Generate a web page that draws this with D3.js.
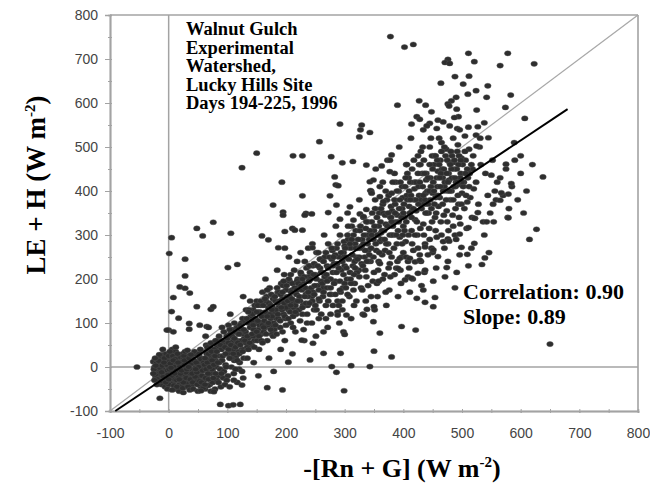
<!DOCTYPE html>
<html><head><meta charset="utf-8">
<script src="https://cdn.jsdelivr.net/npm/d3@7/dist/d3.min.js"></script>
<style>body{margin:0;background:#fff}svg{display:block}</style>
</head><body>
<script>
const xTicks=[-100,0,100,200,300,400,500,600,700,800];
const yTicks=[-100,0,100,200,300,400,500,600,700,800];
const fitSlope=0.89, fitIntercept=-19, fitRange=[-91,680];
const annotation=["Walnut Gulch","Experimental","Watershed,","Lucky Hills Site","Days 194-225, 1996"];
const stats=["Correlation: 0.90","Slope: 0.89"];

const ptsCluster=[[-20,-10],[-18,5],[-15,-20],[-12,10],[-10,-5],[-8,-30],[-5,15],[-3,-15],[0,0],[2,-25],[4,20],[6,-8],[8,-35],[10,5],[12,-18],[14,25],[16,-2],[18,-40],[20,10],[22,-22],[24,30],[26,-5],[28,-45],[30,15],[32,-12],[34,-30],[36,5],[38,-20],[40,20],[42,-8],[44,-38],[46,0],[48,-25],[50,12],[52,-15],[55,-45],[58,5],[60,-30],[-22,-25],[-16,-35],[-12,-40],[-6,-45],[-2,-8],[1,12],[3,-38],[5,32],[7,-18],[9,0],[11,-28],[13,15],[15,-12],[17,-48],[19,22],[21,-32],[23,-2],[25,18],[27,-28],[29,2],[31,-38],[33,25],[35,-15],[37,-5],[39,-42],[41,8],[43,-18],[45,30],[47,-32],[49,-5],[51,-22],[53,22],[56,-10],[-24,0],[-20,18],[-14,22],[-9,28],[-4,-22],[0,-40],[6,40],[10,-50],[18,-55],[25,-58],[62,-50],[65,-20],[68,10],[70,-40],[72,25],[75,-10],[78,-30],[80,15],[64,35],[-26,12],[-10,40],[-18,-15],[-6,5],[4,-12],[14,-30],[24,-15],[34,10],[44,-10],[54,0],[-14,-8],[-2,22],[12,35],[28,-20],[38,-32],[48,8],
[-25,-5],[-23,-18],[-21,8],[-19,-28],[-17,14],[-15,-2],[-13,-32],[-11,3],[-9,-22],[-7,20],[-5,-35],[-3,5],[-1,-18],[-24,-30],[-20,-40],[-16,28],[-12,-12],[-8,10],[-4,30],[0,25],[-2,-50],[-26,-15],[-22,3],
[1,-5],[3,8],[5,-20],[7,25],[9,-42],[11,18],[13,-8],[15,30],[17,-22],[19,2],[21,-45],[23,12],[25,-35],[27,5],[29,-12],[2,35],[8,15],[14,-45],[20,-15],[26,25],[0,-28],[6,-52],[12,45],[16,10],[22,-8],[28,35],[30,-25],[4,-2],[10,-15],[18,-28],[24,-48],[27,15],
[31,-5],[33,-45],[35,20],[37,-28],[39,8],[41,-35],[43,15],[45,-22],[47,10],[49,-40],[51,0],[53,-32],[55,18],[57,-20],[59,-48],[32,38],[36,-52],[40,-15],[44,35],[48,-12],[52,30],[56,-35],[60,10],[34,0],[38,28],[42,-50],[46,-5],[50,-55],[54,40],[58,-8],
[61,5],[63,-25],[65,30],[67,-42],[69,15],[71,-15],[73,40],[75,-35],[77,20],[79,-50],[81,0],[83,45],[85,-20],[87,25],[89,-45],[62,-40],[66,10],[70,50],[74,-5],[78,55],[82,-30],[86,10],[90,40],[64,50],[68,-28],[72,-55],[76,35],[80,-15],[84,60],[88,-5],
[91,15],[93,-25],[95,55],[97,5],[99,70],[101,-20],[103,35],[105,75],[107,0],[109,50],[111,-15],[113,80],[115,25],[117,-35],[119,55],[121,10],[123,85],[125,40],[127,-25],[129,65],[92,60],[96,-40],[100,30],[104,-45],[108,85],[112,15],[116,90],[120,-5],[124,100],[128,20],[94,-10],[102,95],[110,60],[118,35],[126,75],[130,105]];

const ptsBand=[[62,20],[64,-5],[66,45],[68,30],[70,0],[72,55],[74,15],[76,-25],[78,40],[80,60],[63,70],[67,-15],[73,35],[77,5],[79,25],
[82,35],[84,10],[86,70],[88,50],[90,-15],[92,25],[94,80],[96,45],[98,0],[100,65],[85,-35],[91,90],[97,30],[99,-30],
[102,55],[104,85],[106,20],[108,70],[110,40],[112,100],[114,-5],[116,60],[118,90],[120,30],[105,120],[111,-30],[117,15],[119,75],
[122,95],[124,60],[126,110],[128,40],[130,80],[132,130],[134,20],[136,100],[138,70],[140,115],[125,-10],[131,55],[139,150],[127,160],
[142,90],[144,130],[146,60],[148,110],[150,150],[152,85],[154,40],[156,125],[158,100],[160,170],[145,10],[153,-20],[157,140],[149,75],
[162,120],[164,90],[166,150],[168,60],[170,135],[172,180],[174,110],[176,75],[178,155],[180,125],[165,200],[171,20],[177,95],[179,-10],
[182,150],[184,110],[186,170],[188,135],[190,90],[192,190],[194,155],[196,120],[198,60],[200,175],[185,220],[191,40],[197,210],[199,140],
[202,160],[204,130],[206,195],[208,100],[210,175],[212,145],[214,220],[216,80],[218,165],[220,200],[205,250],[211,30],[217,120],[219,240],
[222,180],[224,150],[226,210],[228,120],[230,190],[232,240],[234,165],[236,100],[238,205],[240,175],[225,260],[231,60],[237,140],[239,230],
[242,200],[244,160],[246,230],[248,130],[250,210],[252,260],[254,185],[256,110],[258,225],[260,195],[245,280],[251,70],[257,150],[259,245],
[262,215],[264,180],[266,250],[268,140],[270,230],[272,280],[274,200],[276,120],[278,245],[280,215],[265,300],[271,90],[277,165],[279,265],
[282,235],[284,195],[286,270],[288,150],[290,250],[292,300],[294,220],[296,130],[298,260],[300,230],[285,320],[291,100],[297,180],[299,285],
[131,80],[133,110],[135,65],[137,130],[139,90],[141,50],[143,120],[145,85],[147,140],[149,100],[151,60],[153,125],[155,95],[157,150],[159,115],[134,45],[142,105],[150,125],[158,75],[136,125],[144,70],[152,140],[160,95],
[161,140],[163,105],[165,125],[167,160],[169,95],[171,145],[173,120],[175,165],[177,135],[179,100],[181,160],[183,130],[185,180],[187,110],[189,150],[162,80],[168,175],[174,140],[180,85],[186,145],[164,155],[176,115],[188,170],
[191,165],[193,130],[195,185],[197,145],[199,110],[201,185],[203,150],[205,200],[207,125],[209,170],[211,190],[213,135],[215,180],[217,150],[219,195],[194,170],[200,135],[206,160],[212,115],[218,175],[196,195],[208,210],[216,140],
[221,190],[223,160],[225,215],[227,175],[229,140],[231,205],[233,180],[235,225],[237,160],[239,195],[241,215],[243,180],[245,150],[247,210],[249,185],[222,130],[228,200],[234,145],[240,230],[246,170],[226,185],[238,170],[248,235],
[252,200],[254,230],[256,175],[258,245],[260,215],[262,190],[264,240],[266,205],[268,260],[270,180],[272,225],[274,250],[276,200],[278,270],[280,230],[282,190],[284,255],[286,215],[288,280],[290,225],[292,195],[294,260],[296,240],[298,210],[300,275],[255,260],[263,160],[269,210],[275,165],[281,250],[287,235],[293,170],[299,250],
[102,40],[106,50],[110,30],[114,45],[118,55],[122,50],[126,35],[130,60],[134,70],[138,55],[142,75],[146,45],[150,80],[154,70],[158,60],[162,90],[166,75],[170,100],[174,85],[178,70],[182,95],[186,120],[190,105],[194,80],[198,115],[104,20],[112,65],[120,75],[128,85],[136,40],[144,95],[152,105],[160,55],[168,115],[176,130],[184,75],[192,135],[200,95],
[204,110],[208,140],[212,90],[216,125],[220,150],[224,105],[228,135],[232,160],[236,120],[240,145],[244,100],[248,165],[252,130],[256,155],[260,120],[264,170],[268,110],[272,150],[276,180],[280,140],[284,165],[288,125],[292,175],[296,150],[300,190],[210,155],[230,85],[250,140],[270,195],[290,140]];

const ptsUpperBand=[[302,250],[304,200],[306,290],[308,160],[310,270],[312,320],[314,230],[316,140],[318,280],[320,250],[305,350],[311,110],[317,190],[319,310],[309,215],
[322,270],[324,220],[326,310],[328,180],[330,290],[332,340],[334,250],[336,150],[338,300],[340,265],[325,380],[331,120],[337,205],[339,330],[329,235],
[342,290],[344,240],[346,330],[348,195],[350,310],[352,360],[354,265],[356,160],[358,320],[360,285],[345,400],[351,130],[357,220],[359,350],[349,250],[353,450],
[362,305],[364,255],[366,350],[368,210],[370,325],[372,380],[374,280],[376,175],[378,340],[380,300],[365,420],[371,140],[377,235],[379,365],[369,265],[373,470],
[382,320],[384,270],[386,370],[388,225],[390,345],[392,400],[394,295],[396,190],[398,360],[400,320],[385,440],[391,160],[397,250],[399,385],[389,280],[393,500],[387,420],
[402,340],[404,285],[406,390],[408,240],[410,365],[412,420],[414,310],[416,200],[418,380],[420,335],[405,460],[411,170],[417,265],[419,405],[409,300],[413,520],[407,440],[415,355],
[422,355],[424,300],[426,410],[428,255],[430,380],[432,440],[434,325],[436,215],[438,395],[440,350],[425,480],[431,185],[437,280],[439,425],[429,315],[433,500],[427,460],[435,370],
[442,370],[444,315],[446,430],[448,270],[450,395],[452,460],[454,340],[456,225],[458,410],[460,365],[445,500],[451,195],[457,295],[459,445],[449,330],[453,480],[447,520],[455,385],
[462,385],[464,330],[466,450],[468,285],[470,410],[472,480],[474,355],[476,240],[478,425],[480,380],[465,510],[471,205],[477,310],[479,465],[469,345],[473,495],[467,430],[475,400],[463,470],[461,520],
[482,400],[484,345],[486,465],[488,300],[490,420],[492,490],[494,370],[496,255],[498,440],[500,395],[485,520],[491,215],[497,325],[499,475],[489,360],[493,505],[487,450],[495,415],[483,480],
[502,410],[504,360],[506,470],[508,315],[510,430],[512,495],[514,385],[516,270],[518,450],[520,405],[505,525],[511,230],[517,340],[519,480],[509,375],[513,440],
[524,420],[528,370],[532,460],[536,330],[540,440],[544,390],[548,350],[552,470],[556,400],[560,420],[530,500],[538,300],[546,260],[554,330],[558,380],
[565,430],[570,390],[575,450],[580,360],[585,410],[590,470],[595,380],[600,440],[610,400],[620,460],[605,350],[615,290],
[301,270],[303,225],[305,300],[307,245],[309,280],[311,190],[313,255],[315,300],[317,240],[319,270],[321,215],[323,290],[325,250],[327,320],[329,275],[331,230],[333,300],[335,265],[337,330],[339,280],[341,240],[343,310],[345,270],[347,350],[349,290],[302,180],[312,290],[322,245],[332,280],[342,255],[306,320],[316,210],[326,270],[336,315],[346,300],
[351,320],[353,280],[355,340],[357,300],[359,260],[361,330],[363,290],[365,370],[367,310],[369,345],[371,280],[373,320],[375,390],[377,300],[379,340],[381,355],[383,300],[385,380],[387,330],[389,400],[391,310],[393,360],[395,420],[397,340],[399,300],[352,380],[358,240],[364,310],[370,400],[376,260],[382,420],[388,300],[394,380],[400,350],[356,300],[362,360],[368,290],[374,350],[380,330],[386,350],[392,330],[398,410],
[401,370],[403,410],[405,330],[407,380],[409,430],[411,350],[413,390],[415,450],[417,360],[419,420],[421,380],[423,330],[425,440],[427,390],[429,460],[431,360],[433,410],[435,470],[437,380],[439,440],[441,400],[443,350],[445,460],[447,410],[449,480],[402,310],[406,460],[410,400],[414,340],[418,470],[422,420],[426,370],[430,490],[434,390],[438,350],[442,430],[446,380],[450,450],[404,430],[412,380],[420,300],[428,420],[436,440],[444,400],[448,360],
[451,420],[453,370],[455,480],[457,430],[459,390],[461,460],[463,410],[465,490],[467,370],[469,450],[471,420],[473,380],[475,470],[477,440],[479,400],[481,490],[483,430],[485,380],[487,470],[489,410],[491,450],[493,390],[495,480],[497,430],[499,370],[501,460],[503,420],[505,490],[507,390],[509,450],[452,400],[458,470],[464,440],[470,500],[476,420],[482,450],[488,430],[494,460],[500,420],[506,440],[456,350],[462,430],[468,400],[474,440],[480,460],[486,410],[492,420],[498,470],[512,410],[516,460],
[305,165],[310,200],[315,175],[320,150],[325,205],[330,175],[335,220],[340,185],[345,160],[350,215],[355,190],[360,235],[365,200],[370,170],[375,225],[380,250],[385,210],[390,240],[395,220],[400,260],[318,225],[338,240],[358,195],[378,205],[398,280],
[405,250],[415,280],[425,270],[435,300],[445,290],[455,310],[465,300],[475,330],[485,320],[495,340],[410,225],[430,240],[450,260],[470,270],[490,290]];

const ptsScattered=[[378,751],[292,552],[329,550],[327,539],[325,523],[343,533],[257,512],[150,486],[212,480],[228,480],[125,453],[277,478],[296,464],[314,467],[337,459],[363,457],[380,482],[193,420],[283,432],[285,414],[289,412],[228,389],[275,389],[343,421],[349,425],[360,410],[344,401],[346,395],[178,368],[195,352],[234,349],[244,348],[272,351],[286,368],[309,364],[326,348],[337,358],[360,387],[366,376],[380,395],[377,444],[377,470],
[402,727],[417,733],[476,699],[471,692],[479,690],[511,713],[578,713],[521,694],[565,685],[623,689],[488,660],[512,661],[464,645],[502,643],[544,639],[524,628],[510,620],[542,613],[583,618],[490,613],[482,605],[476,598],[478,593],[427,605],[438,595],[390,595],[525,584],[574,590],[607,565],[491,586],[494,569],[487,567],[448,580],[423,569],[428,563],[459,561],[468,557],[445,554],[440,548],[414,552],[457,542],[434,539],[479,548],[492,542],[496,539],[511,545],[527,546],[538,555],[524,527],[531,520],[545,521],[525,502],[589,510],[600,480],[575,461],[638,432],[550,436],[584,417],[567,396],[579,393],[553,370],[565,379],[578,340],[527,351],[522,338],
[627,313],[579,339],[542,330],[521,338],[511,317],[496,302],[521,281],[499,272],[509,256],[539,248],[534,233],[476,291],[478,286],[474,226],[488,180],[454,158],[451,137],[437,147],[423,156],[434,175],[397,92],[421,84],[650,52],[408,205],[414,202],[425,213],[437,220],[403,198],[442,255],[459,251],[437,273],[451,266],[420,239],[411,247],[428,243],[394,247],[391,224],
[76,329],[48,315],[58,298],[106,304],[5,294],[1,258],[159,298],[170,289],[195,345],[232,345],[211,315],[215,311],[228,311],[292,336],[315,334],[332,342],[198,308],[187,271],[198,270],[238,270],[245,271],[28,245],[101,226],[117,233],[28,207],[19,182],[28,179],[36,168],[8,158],[5,126],[17,111],[0,84],[8,80],[48,137],[35,99],[53,95],[65,92],[-15,-71],[88,-85],[102,-88],[110,-86],[122,-85],[55,-54],[77,-56],[125,-41],[168,-47],[194,-52],[299,-54],[241,16],[204,11],[278,1],[286,-12],[311,3],[343,1],[380,23],[350,36],[264,31],[293,31],[227,61],[246,54],[298,80],[300,74],[264,80],[360,77],[349,103],[333,118],[303,118],[288,118],[350,137],[338,131],
[-54,0],[-23,20],[72,131],[76,137],[68,90],[35,86],[-3,84]];

const points=[].concat(ptsCluster,ptsBand,ptsUpperBand,ptsScattered);

const W=650,H=487;
const svg=d3.select("body").append("svg").attr("width",W).attr("height",H);
const x=d3.scaleLinear().domain([-100,800]).range([110,638]);
const y=d3.scaleLinear().domain([-100,800]).range([411,15]);
const gray="#a3a3a3";
const fmt=d=>String(d);

svg.append("line").attr("x1",x(-100)).attr("x2",x(800)).attr("y1",y(800)).attr("y2",y(800)).attr("stroke",gray).attr("stroke-width",1.5);
svg.append("line").attr("x1",x(800)).attr("x2",x(800)).attr("y1",y(800)).attr("y2",y(-100)).attr("stroke","#b5b5b5").attr("stroke-width",2);
svg.append("line").attr("x1",x(0)).attr("x2",x(0)).attr("y1",y(800)).attr("y2",y(-100)).attr("stroke",gray).attr("stroke-width",1.5);
svg.append("line").attr("x1",x(-100)).attr("x2",x(800)).attr("y1",y(0)).attr("y2",y(0)).attr("stroke",gray).attr("stroke-width",1.5);

function styleAxis(g){g.select(".domain").attr("stroke",gray).attr("stroke-width",1.5);g.selectAll(".tick line").attr("stroke",gray);g.selectAll("text").attr("fill","#444").attr("font-family","'Liberation Sans',Arial,sans-serif").attr("font-size","14px");}
const minor=d3.range(-100,801,50);
svg.append("g").attr("transform",`translate(${x(-100)},0)`).call(d3.axisLeft(y).tickValues(minor).tickSize(2).tickFormat("")).call(styleAxis);
svg.append("g").attr("transform",`translate(${x(-100)},0)`).call(d3.axisRight(y).tickValues(minor).tickSize(2).tickFormat("")).call(styleAxis);
svg.append("g").attr("transform",`translate(${x(-100)},0)`).call(d3.axisLeft(y).tickValues(yTicks).tickSize(5).tickPadding(7).tickFormat(fmt)).call(styleAxis);
svg.append("g").attr("transform",`translate(0,${y(-100)})`).call(d3.axisBottom(x).tickValues(minor).tickSize(2).tickFormat("")).call(styleAxis);
svg.append("g").attr("transform",`translate(0,${y(-100)})`).call(d3.axisTop(x).tickValues(minor).tickSize(2).tickFormat("")).call(styleAxis);
svg.append("g").attr("transform",`translate(0,${y(-100)})`).call(d3.axisBottom(x).tickValues(xTicks).tickSize(2).tickPadding(15).tickFormat(fmt)).call(styleAxis);

svg.append("line").attr("x1",x(-100)).attr("y1",y(-100)).attr("x2",x(800)).attr("y2",y(800)).attr("stroke","#a8a8a8").attr("stroke-width",1.3);

svg.append("g").selectAll("ellipse").data(points).join("ellipse")
 .attr("cx",d=>x(d[0])).attr("cy",d=>y(d[1])).attr("rx",3.3).attr("ry",2.6)
 .attr("fill","#2e2e2e").attr("stroke","#555").attr("stroke-width",0.4);

svg.append("line").attr("x1",x(fitRange[0])).attr("y1",y(fitSlope*fitRange[0]+fitIntercept))
 .attr("x2",x(fitRange[1])).attr("y2",y(fitSlope*fitRange[1]+fitIntercept)).attr("stroke","#000").attr("stroke-width",2);

const serif="'Liberation Serif','Times New Roman',serif";
const at=svg.append("text").attr("font-family",serif).attr("font-weight","bold").attr("font-size","18.5px").attr("fill","#000");
annotation.forEach((s,i)=>at.append("tspan").attr("x",186).attr("y",35+i*18.5).text(s));
const st=svg.append("text").attr("font-family",serif).attr("font-weight","bold").attr("font-size","22px").attr("fill","#000");
stats.forEach((s,i)=>st.append("tspan").attr("x",463).attr("y",299+i*25).text(s));

const xt=svg.append("text").attr("x",402).attr("y",477).attr("text-anchor","middle").attr("font-family",serif).attr("font-weight","bold").attr("font-size","26px");
xt.append("tspan").text("-[Rn + G] (W m");
xt.append("tspan").attr("dy",-10).attr("font-size","15px").text("-2");
xt.append("tspan").attr("dy",10).text(")");
const yt=svg.append("text").attr("transform","translate(45,185) rotate(-90)").attr("text-anchor","middle").attr("font-family",serif).attr("font-weight","bold").attr("font-size","27px");
yt.append("tspan").text("LE + H (W m");
yt.append("tspan").attr("dy",-10).attr("font-size","15px").text("-2");
yt.append("tspan").attr("dy",10).text(")");
</script>
</body></html>
